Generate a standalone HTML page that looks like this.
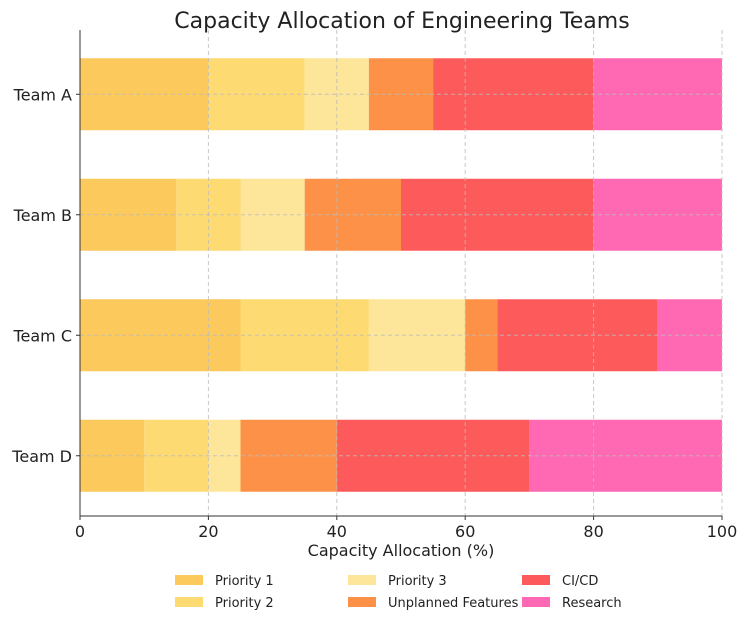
<!DOCTYPE html>
<html><head><meta charset="utf-8"><style>body{margin:0;background:#fff}svg{display:block;font-family:"DejaVu Sans","Liberation Sans",sans-serif}</style></head>
<body>
<svg id="c" width="750" height="629"></svg>
<script>
const teams=["Team A","Team B","Team C","Team D"];
const seriesNames=["Priority 1","Priority 2","Priority 3","Unplanned Features","CI/CD","Research"];
const priority1=[20,15,25,10];
const priority2=[15,10,20,10];
const priority3=[10,10,15,5];
const unplanned=[10,15,5,15];
const cicd=[25,30,25,30];
const research=[20,20,10,30];
const xTicks=[0,20,40,60,80,100];
const colors=["#fbc95c","#fdda72","#fde59a","#fd9147","#fd5b5b","#ff69b4"];
const series=[priority1,priority2,priority3,unplanned,cicd,research];
const L=80,R=722,T=34,B=516;
const x=v=>L+(v/100)*(R-L);
const bandH=(B-T)/teams.length;
const yc=i=>T+bandH*(i+0.5);
const barH=72;
const NS="http://www.w3.org/2000/svg";
const svg=document.getElementById('c');
function mk(t,a,txt){const e=document.createElementNS(NS,t);for(const k in a)e.setAttribute(k,a[k]);if(txt!==undefined)e.textContent=txt;svg.appendChild(e);return e;}
let e=mk('text',{x:402,y:28,'text-anchor':'middle','font-size':22,fill:'#222'},'Capacity Allocation of Engineering Teams');


teams.forEach((t,i)=>{let acc=0;series.forEach((s,j)=>{const r=mk('rect',{x:x(acc),y:yc(i)-barH/2,width:x(acc+s[i])-x(acc),height:barH,fill:colors[j]});


acc+=s[i];});
const lb=mk('text',{x:72,y:yc(i)+6,'text-anchor':'end','font-size':16,fill:'#222'},t);


mk('line',{x1:L,x2:R,y1:yc(i),y2:yc(i),stroke:'#bbb','stroke-dasharray':'4,3','stroke-width':1,opacity:0.8});
mk('line',{x1:L-4,x2:L,y1:yc(i),y2:yc(i),stroke:'#333'});});
xTicks.forEach(v=>{mk('line',{x1:x(v),x2:x(v),y1:T-4,y2:B,stroke:'#bbb','stroke-dasharray':'4,3','stroke-width':1,opacity:0.8});
mk('line',{x1:x(v),x2:x(v),y1:B,y2:B+4,stroke:'#333'});
const tl=mk('text',{x:x(v),y:B+21,'text-anchor':'middle','font-size':16,fill:'#222'},v);

});
mk('line',{x1:L,x2:L,y1:T-4,y2:B,stroke:'#333'});
mk('line',{x1:L,x2:R,y1:B,y2:B,stroke:'#333'});
e=mk('text',{x:401,y:556,'text-anchor':'middle','font-size':16,fill:'#222'},'Capacity Allocation (%)');


const lx=[175,175,348,348,522,522],ly=[582,604,582,604,582,604];
seriesNames.forEach((n,j)=>{mk('rect',{x:lx[j],y:ly[j]-7,width:28,height:10,fill:colors[j]});
const t=mk('text',{x:lx[j]+40,y:ly[j]+3,'font-size':13,fill:'#222'},n);

});
</script>
</body></html>
